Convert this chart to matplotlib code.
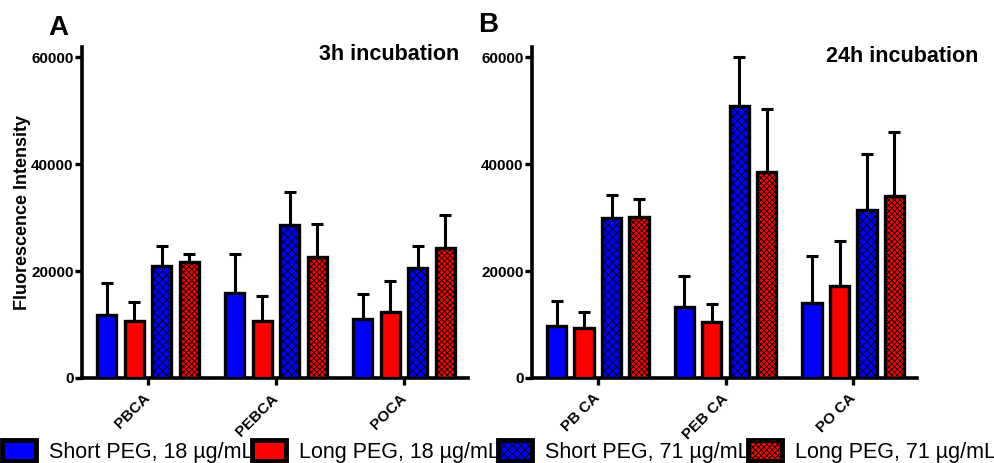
import matplotlib.pyplot as plt
import numpy as np
from matplotlib.patches import Patch

plt.rcParams['font.family'] = ['Liberation Sans', 'DejaVu Sans']
plt.rcParams['hatch.linewidth'] = 0.6

# data (mean, upper error)
groups_a = ['PBCA', 'PEBCA', 'POCA']
groups_b = ['PB CA', 'PEB CA', 'PO CA']
series = ['Short PEG, 18 µg/mL', 'Long PEG, 18 µg/mL',
          'Short PEG, 71 µg/mL', 'Long PEG, 71 µg/mL']

# panel A, 3h
short18_a = [11800, 15850, 11050]
long18_a = [10600, 10750, 12300]
short71_a = [20950, 28700, 20500]
long71_a = [21750, 22550, 24250]
short18_a_err = [6050, 7300, 4600]
long18_a_err = [3700, 4500, 5750]
short71_a_err = [3800, 6000, 4250]
long71_a_err = [1400, 6250, 6200]

# panel B, 24h
short18_b = [9750, 13350, 14100]
long18_b = [9350, 10400, 17200]
short71_b = [29950, 50800, 31500]
long71_b = [30150, 38550, 34000]
short18_b_err = [4650, 5750, 8700]
long18_b_err = [2900, 3400, 8500]
short71_b_err = [4350, 9200, 10350]
long71_b_err = [3400, 11700, 11950]

colors = ['#0000ff', '#ff0000', '#0000ff', '#ff0000']
hatches = [None, None, 'xxxx', 'xxxxxx']

fig = plt.figure(figsize=(9.95, 4.63), dpi=100)
ax_a = fig.add_axes([0.0824, 0.1836, 0.388, 0.715])
ax_b = fig.add_axes([0.5347, 0.1836, 0.387, 0.715])


def draw(ax, labels, vals, errs, title, tx, ty):
    x = np.arange(len(labels))
    step = 0.215
    for i in range(4):
        pos = x + (i - 1.5) * step
        ax.bar(pos, vals[i], width=0.15, color=colors[i], edgecolor='black',
               linewidth=2.4, hatch=hatches[i], zorder=3)
        ax.errorbar(pos, vals[i], yerr=[np.zeros(len(labels)), errs[i]],
                    fmt='none', ecolor='black', elinewidth=2.2,
                    capsize=4, capthick=2.2, zorder=2)
    ax.set_xlim(-0.515, 2.5)
    ax.set_ylim(0, 61900)
    ax.set_yticks([0, 20000, 40000, 60000])
    ax.set_yticklabels(['0', '20000', '40000', '60000'], fontsize=11,
                       fontweight='bold')
    ax.set_xticks(x)
    ax.set_xticklabels(labels, rotation=45, ha='right', va='center',
                       rotation_mode='anchor', fontsize=11, fontweight='bold')
    for s in ['top', 'right']:
        ax.spines[s].set_visible(False)
    for s in ['left', 'bottom']:
        ax.spines[s].set_linewidth(2.6)
    ax.tick_params(axis='y', width=2.4, length=5, pad=1)
    ax.tick_params(axis='x', width=2.4, length=5, pad=8)
    ax.text(tx, ty, title, transform=ax.transAxes, ha='right', va='center',
            fontsize=15.5, fontweight='bold', clip_on=False)


draw(ax_a, groups_a, [short18_a, long18_a, short71_a, long71_a],
     [short18_a_err, long18_a_err, short71_a_err, long71_a_err],
     '3h incubation', 0.977, 0.976)
draw(ax_b, groups_b, [short18_b, long18_b, short71_b, long71_b],
     [short18_b_err, long18_b_err, short71_b_err, long71_b_err],
     '24h incubation', 1.158, 0.970)

ax_a.set_ylabel('Fluorescence Intensity', fontsize=13, fontweight='bold',
                labelpad=0)

fig.text(0.049, 0.94, 'A', fontsize=20, fontweight='bold', va='center')
fig.text(0.481, 0.946, 'B', fontsize=20, fontweight='bold', va='center')

handles = [Patch(facecolor=colors[i], edgecolor='black', linewidth=3.5,
                 hatch=hatches[i]) for i in range(4)]
fig.legend(handles, series, loc='upper left', bbox_to_anchor=(0.002, 0.049),
           ncol=4, frameon=False, fontsize=15.5,
           handlelength=1.6, handleheight=1.1, handletextpad=0.6,
           columnspacing=-0.1, borderpad=0, borderaxespad=0)

fig.savefig('out.png', dpi=100)
